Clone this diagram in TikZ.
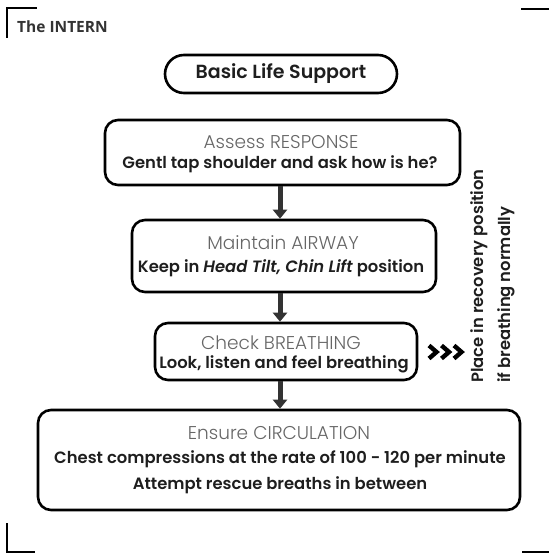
\documentclass[tikz,border=0pt]{standalone}
\usepackage{fontspec}
\setmainfont{Poppins}
\newfontfamily\hdrfont{Poppins Light}
\newfontfamily\bodyfont[BoldFont=Poppins SemiBold,BoldItalicFont=Poppins SemiBold Italic]{Poppins}
\newfontfamily\introfont{Open Sans}
\usetikzlibrary{arrows.meta,calc}
\definecolor{hdrc}{HTML}{666666}
\definecolor{txtc}{HTML}{1E1E1E}
\definecolor{arrc}{HTML}{333333}
\begin{document}
\begin{tikzpicture}[x=1pt,y=-1pt,
  box/.style={draw=black, line width=2.6pt, rounded corners=13pt, inner sep=0pt},
  hdr/.style={inner sep=0pt, text=hdrc, font=\hdrfont\fontsize{18.5}{22}\selectfont},
  body/.style={inner sep=0pt, text=txtc, font=\bodyfont\bfseries\fontsize{16.4}{19}\selectfont},
  flow/.style={draw=arrc, line width=5pt, -{Triangle[width=14pt,length=9pt]}},
  chev/.style={draw=black, line width=4.4pt, line join=miter},
  crop/.style={draw=black, line width=2.4pt}
]
\useasboundingbox (0,0) rectangle (549,553);
% corner marks
\draw[crop] (7,38) -- (7,8) -- (37,8);
\draw[crop] (521,9) -- (549,9);
\draw[crop] (7,523) -- (7,552) -- (35,552);
\draw[crop] (522,552) -- (549,552);
\node[anchor=west, inner sep=0pt, text=arrc, font=\introfont\bfseries\fontsize{15.5}{18}\selectfont] (intern) at (17,27) {The INTERN};
% title
\node[box, rounded corners=19pt, minimum width=232pt, minimum height=38pt, font=\bodyfont\bfseries\fontsize{19}{22}\selectfont, text=txtc] (title) at (281,74) {Basic Life Support};
% boxes
\node[box, minimum width=355pt, minimum height=65pt] (b1) at (282.5,152.5) {};
\node[hdr] (b1h) at (281,142) {Assess RESPONSE};
\node[body] (b1t) at (280,164) {Gentl tap shoulder and ask how is he?};
\node[box, minimum width=304pt, minimum height=72pt] (b2) at (284,256) {};
\node[hdr] (b2h) at (283,243) {Maintain AIRWAY};
\node[body] (b2t) at (281,268) {Keep in \textit{Head Tilt, Chin Lift} position};
\node[box, minimum width=262pt, minimum height=57pt] (b3) at (286,351.5) {};
\node[hdr] (b3h) at (281,343) {Check BREATHING};
\node[body] (b3t) at (284,364) {Look, listen and feel breathing};
\node[box, minimum width=482pt, minimum height=100pt] (b4) at (279,460) {};
\node[hdr] (b4h) at (279,433) {Ensure CIRCULATION};
\node[body] (b4t) at (280,459) {Chest compressions at the rate of 100 - 120 per minute};
\node[body] (b4u) at (280,485) {Attempt rescue breaths in between};
% flow arrows
\coordinate (ax) at (280,0);
\draw[flow] (b1.south -| ax) -- (b2.north -| ax);
\draw[flow] (b2.south -| ax) -- (b3.north -| ax);
\draw[flow] (b3.south -| ax) -- (b4.north -| ax);
% chevrons
\coordinate (c0) at (429,352);
\foreach \dx in {0,12.5,25}{
  \draw[chev] ($(c0)+(\dx,-6.5)$) -- ++(7.5,6.5) -- ++(-7.5,6.5);
}
% rotated note
\node[rotate=90, anchor=base west, inner sep=0pt, text=txtc, font=\bodyfont\bfseries\fontsize{16.4}{19}\selectfont] (note1) at (483,383) {Place in recovery position};
\node[rotate=90, anchor=base west, inner sep=0pt, text=txtc, font=\bodyfont\bfseries\fontsize{16.4}{19}\selectfont] (note2) at (510,383) {if breathing normally};
\end{tikzpicture}
\end{document}
